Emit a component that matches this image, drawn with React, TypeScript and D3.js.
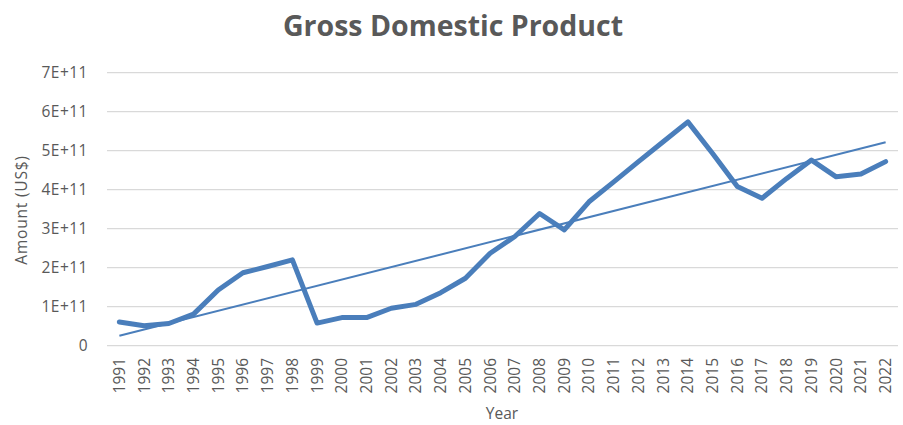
import React from "react";
import * as d3 from "d3";

const years = [
  "1991","1992","1993","1994","1995","1996","1997","1998","1999","2000",
  "2001","2002","2003","2004","2005","2006","2007","2008","2009","2010",
  "2011","2012","2013","2014","2015","2016","2017","2018","2019","2020",
  "2021","2022",
];
const gdp = [
  6.1e10, 5.1e10, 5.7e10, 8.1e10, 1.43e11, 1.87e11, 2.03e11, 2.2e11, 5.8e10, 7.2e10,
  7.2e10, 9.6e10, 1.06e11, 1.36e11, 1.73e11, 2.37e11, 2.8e11, 3.39e11, 2.97e11, 3.69e11,
  4.2e11, 4.72e11, 5.23e11, 5.74e11, 4.93e11, 4.08e11, 3.78e11, 4.29e11, 4.76e11, 4.33e11,
  4.4e11, 4.72e11,
];
const yTicks = [0, 1e11, 2e11, 3e11, 4e11, 5e11, 6e11, 7e11];
const yTickLabels = ["0", "1E+11", "2E+11", "3E+11", "4E+11", "5E+11", "6E+11", "7E+11"];

const W = 903;
const H = 425;
const FONT = "'Open Sans', sans-serif";
const TEXT = "#595959";
const BLUE = "#4a7ebb";

export default function App() {
  const x = d3.scalePoint<string>().domain(years).range([107, 898]).padding(0.5);
  const y = d3.scaleLinear().domain([0, 7e11]).range([345.7, 72.7]);

  // least-squares linear trendline
  const n = gdp.length;
  const xs = gdp.map((_, i) => i + 1);
  const mx = d3.mean(xs)!;
  const my = d3.mean(gdp)!;
  const slope =
    d3.sum(xs.map((xi, i) => (xi - mx) * (gdp[i] - my))) /
    d3.sum(xs.map((xi) => (xi - mx) ** 2));
  const icpt = my - slope * mx;
  const trend = [
    { yr: years[0], v: icpt + slope * 1 },
    { yr: years[n - 1], v: icpt + slope * n },
  ];

  const line = d3
    .line<number>()
    .x((_, i) => x(years[i])!)
    .y((d) => y(d));
  const tline = d3
    .line<{ yr: string; v: number }>()
    .x((d) => x(d.yr)!)
    .y((d) => y(d.v));

  return (
    <svg width={W} height={H} style={{ position: "absolute", left: 0, top: 0 }}>
      <rect width={W} height={H} fill="#fff" />
      <text x={453} y={36} textAnchor="middle" fontFamily={FONT} fontWeight="bold" fontSize={28.5} fill={TEXT}>
        Gross Domestic Product
      </text>
      {yTicks.map((t, i) => (
        <g key={t}>
          <line x1={107} x2={898} y1={y(t)} y2={y(t)} stroke="#d9d9d9" strokeWidth={1.3} />
          <text x={88} y={y(t)} dy="0.35em" textAnchor="end" fontFamily={FONT} fontSize={15.5} letterSpacing={0.5} fill={TEXT}>
            {yTickLabels[i]}
          </text>
        </g>
      ))}
      {years.map((yr) => (
        <text
          key={yr}
          transform={`translate(${x(yr)},358) rotate(-90)`}
          dy="0.35em"
          textAnchor="end"
          fontFamily={FONT}
          fontSize={15.5}
          fill={TEXT}
        >
          {yr}
        </text>
      ))}
      <text
        transform="translate(22,210) rotate(-90)"
        dy="0.35em"
        textAnchor="middle"
        fontFamily={FONT}
        fontSize={15.5}
        letterSpacing={0.8}
        fill={TEXT}
      >
        Amount (US$)
      </text>
      <text x={502} y={419} textAnchor="middle" fontFamily={FONT} fontSize={15.5} fill={TEXT}>
        Year
      </text>
      <path d={line(gdp)!} fill="none" stroke={BLUE} strokeWidth={5} strokeLinejoin="round" strokeLinecap="round" />
      <path d={tline(trend)!} fill="none" stroke={BLUE} strokeWidth={2} />
    </svg>
  );
}
